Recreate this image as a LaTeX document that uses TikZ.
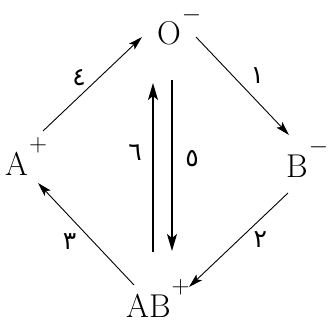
\documentclass[tikz,border=0pt]{standalone}
\usepackage{fontspec}
\usepackage{tikz}
\usetikzlibrary{arrows.meta}
\newfontfamily\arabicfont[Script=Arabic]{DejaVu Sans}
\TeXXeTstate=1
\newcommand{\chg}[1]{\kern1pt\raisebox{0.7em}{\fontsize{24}{24}\selectfont$#1$}}

\begin{document}
\begin{tikzpicture}[x=1pt,y=1pt,
  ion/.style={inner sep=0pt,anchor=base west,font=\fontsize{33}{33}\selectfont},
  lbl/.style={inner sep=0pt,font=\arabicfont\fontsize{25}{25}\selectfont},
  diag/.style={-{Stealth[length=14pt,width=8pt,inset=3pt]},line width=0.9pt},
  vert/.style={-{Stealth[length=17pt,width=10pt,inset=4pt]},line width=1.5pt}]
  \useasboundingbox (0,0) rectangle (329,322);
  % blood groups
  \node[ion] (O) at (157,277) {O\chg{-}};
  \node[ion] (A) at (5,147) {A\chg{+}};
  \node[ion] (B) at (286,145) {B\chg{-}};
  \node[ion] (AB) at (126,5) {AB\chg{+}};
  % arrow ends
  \coordinate (As) at (43,191);  \coordinate (Oe) at (142,285);
  \coordinate (Os) at (196,285); \coordinate (Be) at (289,187);
  \coordinate (Bs) at (288,129); \coordinate (ABe) at (189,35);
  \coordinate (ABs) at (134,37); \coordinate (Ae) at (38,139);
  \coordinate (upS) at (153,70);  \coordinate (upE) at (153,239);
  \coordinate (dnS) at (172,242); \coordinate (dnE) at (172,71);
  \path (As) edge[diag] node[lbl,pos=.46,xshift=-9.5pt,yshift=9.8pt]{\beginR ٤\endR} (Oe)
        (Os) edge[diag] node[lbl,pos=.52,xshift=13pt,yshift=12.5pt]{\beginR ١\endR} (Be)
        (Bs) edge[diag] node[lbl,pos=.38,xshift=10pt,yshift=-10.7pt]{\beginR ٢\endR} (ABe)
        (ABs) edge[diag] node[lbl,pos=.54,xshift=-12.5pt,yshift=-11.8pt]{\beginR ٣\endR} (Ae)
        (upS) edge[vert] node[lbl,pos=.59,xshift=-18pt]{\beginR ٦\endR} (upE)
        (dnS) edge[vert] node[lbl,pos=.46,xshift=20pt]{\beginR ٥\endR} (dnE);
\end{tikzpicture}
\end{document}
